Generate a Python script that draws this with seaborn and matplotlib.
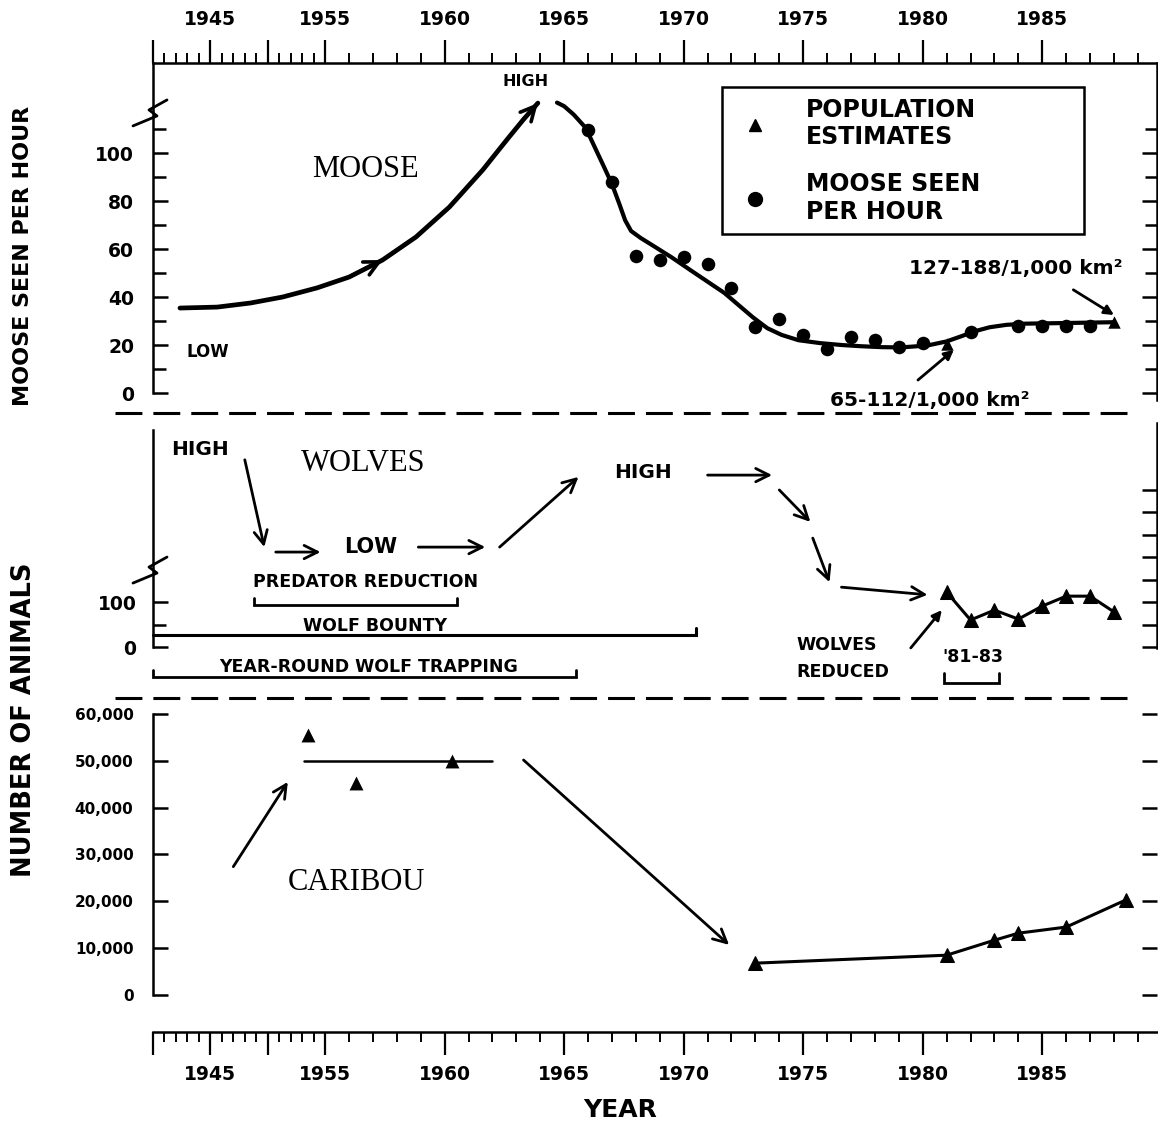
import numpy as np
import matplotlib
matplotlib.use("Agg")
import matplotlib.pyplot as plt
from matplotlib.lines import Line2D
from matplotlib.ticker import FixedLocator, FixedFormatter, NullLocator
import seaborn as sns

# ---------------- data ----------------
# Moose seen per hour of aerial survey
moose_years = [1966, 1967, 1968, 1969, 1970, 1971, 1972, 1973, 1974, 1975,
               1976, 1977, 1978, 1979, 1980, 1982, 1984, 1985, 1986, 1987]
moose_rate = [109.6, 88.0, 57.0, 55.4, 56.7, 53.8, 43.8, 27.5, 30.8, 24.2,
              18.3, 23.3, 22.0, 19.2, 20.8, 25.4, 28.0, 28.0, 28.0, 28.0]
# Moose population estimates (plotted on the same trend)
moose_est_years = [1981, 1988]
moose_est_rate = [20.5, 29.6]

# Hand-fitted moose trend: increase to the mid-1960s high ...
moose_rise_years = [1942.35, 1945.6, 1948.5, 1951.3, 1954.3, 1956.0, 1957.4,
                    1958.8, 1960.2, 1961.6, 1962.2, 1962.7, 1963.3, 1963.9]
moose_rise_rate = [35.4, 35.8, 37.5, 40.0, 43.8, 48.3, 55.4,
                   65.0, 77.5, 93.0, 100.5, 106.7, 114.0, 120.8]
# ... and the decline through the survey years
moose_fall_years = [1964.7, 1965.0, 1965.4, 1965.9, 1966.3, 1966.7, 1967.0,
                    1967.3, 1967.55, 1967.8, 1968.2, 1968.7, 1969.5, 1970.4,
                    1971.7, 1972.9, 1973.5, 1974.1, 1974.8, 1975.7, 1976.6,
                    1977.4, 1978.3, 1979.1, 1980.2, 1981.0, 1981.6, 1982.2,
                    1982.8, 1983.5, 1984.3, 1985.0, 1988.0]
moose_fall_rate = [121.0, 119.5, 116.0, 110.5, 102.0, 93.5, 87.0,
                   79.0, 72.0, 67.5, 64.6, 61.5, 56.5, 50.4,
                   41.7, 31.5, 27.0, 24.2, 22.0, 20.8, 20.0,
                   19.5, 19.1, 19.0, 19.8, 21.5, 23.6, 25.8,
                   27.4, 28.4, 28.9, 29.0, 29.5]

# Wolf counts
wolf_years = [1981, 1982, 1983, 1984, 1985, 1986, 1987, 1988]
wolf_counts = [122, 60, 82, 62, 91, 113, 113, 78]

# Caribou population estimates
caribou_early_years = [1953.5, 1956.3, 1960.3]
caribou_early_counts = [55500, 45300, 50000]
caribou_plateau_years = [1953.2, 1962.0]
caribou_plateau_counts = [50000, 50000]
caribou_years = [1973, 1981, 1983, 1984, 1986, 1988.5]
caribou_counts = [6800, 8500, 11700, 13200, 14500, 20300]

# Wolf control periods (years)
predator_reduction = (1948.8, 1960.5)
wolf_bounty = (1940.0, 1970.5)
year_round_trapping = (1940.0, 1965.5)
wolf_reduction = (1980.9, 1983.2)

# Year axis
year_ticks = [1940, 1945, 1950, 1955, 1960, 1965, 1970, 1975, 1980, 1985]
year_labels = ["", "1945", "", "1955", "1960", "1965", "1970", "1975", "1980", "1985"]
minor_years = [y for y in range(1941, 1990) if y % 5]

# ---------------- style ----------------
sns.set_theme(style="ticks")
plt.rcParams.update({
    "font.family": ["DejaVu Sans"],
    "font.weight": "bold",
    "text.color": "black",
    "axes.edgecolor": "black",
    "axes.linewidth": 1.8,
    "xtick.color": "black",
    "ytick.color": "black",
    "axes.facecolor": "white",
    "figure.facecolor": "white",
    "axes.grid": False,
})
SERIF = ["Liberation Serif", "DejaVu Serif"]

# Years before 1955 are drawn at a compressed scale
SPLIT, SQUEEZE = 1955.0, 0.48


def fwd(x):
    x = np.asarray(x, dtype=float)
    return np.where(x < SPLIT, (x - SPLIT) * SQUEEZE, x - SPLIT)


def inv(t):
    t = np.asarray(t, dtype=float)
    return np.where(t < 0, t / SQUEEZE + SPLIT, t + SPLIT)


W, H = 1158, 1126
fig = plt.figure(figsize=(W / 100, H / 100), dpi=100)


def box(top, bottom):
    return [153 / W, 1 - bottom / H, 1004 / W, (bottom - top) / H]


ax_m = fig.add_axes(box(63, 413))
ax_w = fig.add_axes(box(413, 698))
ax_c = fig.add_axes(box(698, 1032))
for ax in (ax_m, ax_w, ax_c):
    ax.set_xscale("function", functions=(fwd, inv))

K = "black"


def arrow(ax, tail, head, style="->", lw=2.0, ms=24):
    ax.annotate("", xy=head, xytext=tail,
                arrowprops=dict(arrowstyle=style, lw=lw, color=K,
                                shrinkA=0, shrinkB=0, mutation_scale=ms),
                annotation_clip=False)


def bracket(ax, span, y, hook, lw=2.0):
    ax.plot([span[0], span[0], span[1], span[1]], [hook, y, y, hook],
            color=K, lw=lw, clip_on=False, solid_joinstyle="miter")


def zigzag(ax, v0, ppu):
    # small lightning-bolt break mark drawn across the left spine
    pts = [(-20, 13), (4, 3), (-4, -3), (14, -13)]
    xs = [dx / 1004 for dx, dy in pts]
    ys = [v0 - dy / ppu for dx, dy in pts]
    ax.plot(xs, ys, color=K, lw=2.0, transform=ax.get_yaxis_transform(),
            clip_on=False, zorder=5)


# ---------------- moose ----------------
sns.lineplot(x=moose_rise_years, y=moose_rise_rate, estimator=None, sort=False,
             color=K, lw=3.4, ax=ax_m)
sns.lineplot(x=moose_fall_years, y=moose_fall_rate, estimator=None, sort=False,
             color=K, lw=3.0, ax=ax_m)
sns.scatterplot(x=moose_years, y=moose_rate, marker="o", s=95, color=K,
                edgecolor=K, linewidth=0, ax=ax_m, zorder=4)
sns.scatterplot(x=moose_est_years, y=moose_est_rate, marker="^", s=80, color=K,
                edgecolor=K, linewidth=0, ax=ax_m, zorder=4)
arrow(ax_m, (moose_rise_years[5], moose_rise_rate[5]),
      (moose_rise_years[6], moose_rise_rate[6]), lw=2.6, ms=26)
arrow(ax_m, (moose_rise_years[-2], moose_rise_rate[-2]),
      (moose_rise_years[-1], moose_rise_rate[-1]), lw=2.6, ms=26)

ax_m.text(1956.7, 93, "MOOSE", family=SERIF, weight="normal", fontsize=22,
          ha="center", va="center")
ax_m.text(1963.4, 129.6, "HIGH", fontsize=11.5, ha="center", va="center")
ax_m.text(1944.8, 17, "LOW", fontsize=12, ha="center", va="center")
ax_m.text(1983.9, 52, "127-188/1,000 km²", fontsize=14.5, ha="center", va="center")
arrow(ax_m, (1986.3, 43), (1988.0, 32.5), style="-|>", lw=2.0, ms=14)
ax_m.text(1980.3, -3, "65-112/1,000 km²", fontsize=14.5, ha="center", va="center",
          clip_on=False)
arrow(ax_m, (1979.8, 5.4), (1981.3, 18), style="-|>", lw=2.0, ms=14)

handles = [Line2D([], [], ls="", marker="^", markersize=9, color=K),
           Line2D([], [], ls="", marker="o", markersize=10, color=K)]
leg = ax_m.legend(handles, ["POPULATION\nESTIMATES", "MOOSE SEEN\nPER HOUR"],
                  loc="upper left", bbox_to_anchor=(722 / W, 1 - 87 / H, 362 / W, 0),
                  bbox_transform=fig.transFigure, mode="expand", frameon=True,
                  fancybox=False, edgecolor=K, framealpha=1,
                  prop=dict(family="DejaVu Sans", weight="bold", size=17),
                  borderpad=0.45, handlelength=1.9, handletextpad=1.2,
                  labelspacing=0.95, borderaxespad=0)
leg.get_frame().set_linewidth(1.8)

ax_m.set_ylim(-8.33, 137.5)
ax_m.set_yticks([0, 20, 40, 60, 80, 100])
ax_m.set_yticks([10, 30, 50, 70, 90, 110], minor=True)
ax_m.tick_params(axis="y", which="both", left=True, right=True, direction="in",
                 labelleft=True, labelright=False, width=1.8)
ax_m.tick_params(axis="y", which="major", length=11, pad=13.5, labelsize=13.5)
ax_m.tick_params(axis="y", which="minor", length=9)
ax_m.spines["bottom"].set_visible(False)
ax_m.spines["left"].set_bounds(0, 137.5)
ax_m.spines["right"].set_bounds(-3, 137.5)
zigzag(ax_m, 116.7, 2.4)

# ---------------- wolves ----------------
sns.lineplot(x=wolf_years, y=wolf_counts, estimator=None, color=K, lw=2.2,
             marker="^", markersize=9.5, markeredgecolor=K, ax=ax_w)
ax_w.text(1956.6, 407, "WOLVES", family=SERIF, weight="normal", fontsize=22,
          ha="center", va="center")
ax_w.text(1944.1, 438, "HIGH", fontsize=14.5, ha="center", va="center")
arrow(ax_w, (1948.0, 416), (1949.7, 222))
arrow(ax_w, (1950.7, 211), (1954.6, 211))
ax_w.text(1956.9, 222, "LOW", fontsize=15, ha="center", va="center")
arrow(ax_w, (1958.9, 222), (1961.7, 222))
arrow(ax_w, (1962.3, 222), (1965.6, 378))
ax_w.text(1968.3, 387, "HIGH", fontsize=14.5, ha="center", va="center")
arrow(ax_w, (1971.0, 382), (1973.7, 382))
arrow(ax_w, (1974.0, 349), (1975.3, 278))
arrow(ax_w, (1975.4, 242), (1976.1, 144))
arrow(ax_w, (1976.6, 133), (1980.2, 116))
ax_w.text(1974.7, 4, "WOLVES", fontsize=12.5, ha="left", va="center")
ax_w.text(1974.7, -56, "REDUCED", fontsize=12.5, ha="left", va="center")
arrow(ax_w, (1979.5, -2), (1980.8, 82), style="-|>", ms=14)
ax_w.text(1982.1, -22, "'81-83", fontsize=12.5, ha="center", va="center")
bracket(ax_w, wolf_reduction, -80, -58)

ax_w.text(1956.7, 144, "PREDATOR REDUCTION", fontsize=12.5, ha="center", va="center")
bracket(ax_w, predator_reduction, 93, 109)
ax_w.text(1957.1, 47, "WOLF BOUNTY", fontsize=12.5, ha="center", va="center")
ax_w.plot([wolf_bounty[0], wolf_bounty[1], wolf_bounty[1]], [27, 27, 42],
          color=K, lw=2.2, clip_on=False, solid_joinstyle="miter")
ax_w.text(1956.8, -44, "YEAR-ROUND WOLF TRAPPING", fontsize=12.5,
          ha="center", va="center")
bracket(ax_w, year_round_trapping, -67, -51)

ax_w.set_ylim(-113.3, 520)
ax_w.set_yticks([0, 100])
ax_w.set_yticks([50], minor=True)
ax_w.tick_params(axis="y", which="both", left=True, right=False, direction="in",
                 width=1.8)
ax_w.tick_params(axis="y", which="major", length=11, pad=12, labelsize=13.5)
ax_w.tick_params(axis="y", which="minor", length=9)
ax_w.tick_params(axis="x", which="both", bottom=False, top=False,
                 labelbottom=False, labeltop=False)
for s in ("top", "bottom", "right"):
    ax_w.spines[s].set_visible(False)
ax_w.spines["left"].set_bounds(0, 482)
zigzag(ax_w, 171, 0.45)

ax_wr = ax_w.twinx()
ax_wr.set_ylim(-113.3, 520)
ax_wr.set_yticks(list(range(0, 400, 50)))
ax_wr.tick_params(axis="y", which="major", right=True, labelright=False,
                  direction="in", length=11, width=1.8)
ax_wr.tick_params(axis="x", which="both", bottom=False, top=False,
                  labelbottom=False, labeltop=False)
for s in ("top", "bottom", "left"):
    ax_wr.spines[s].set_visible(False)
ax_wr.spines["right"].set_bounds(-2, 498)

# ---------------- caribou ----------------
sns.scatterplot(x=caribou_early_years, y=caribou_early_counts, marker="^", s=100,
                color=K, edgecolor=K, linewidth=0, ax=ax_c, zorder=4)
sns.lineplot(x=caribou_plateau_years, y=caribou_plateau_counts, estimator=None,
             color=K, lw=1.8, ax=ax_c)
sns.lineplot(x=caribou_years, y=caribou_counts, estimator=None, color=K, lw=2.2,
             marker="^", markersize=10, markeredgecolor=K, ax=ax_c)
ax_c.text(1956.3, 24100, "CARIBOU", family=SERIF, weight="normal", fontsize=22,
          ha="center", va="center")
arrow(ax_c, (1947.0, 27400), (1951.75, 45500))
arrow(ax_c, (1963.3, 50170), (1971.9, 10700))

ax_c.set_ylim(-7900, 63410)
ax_c.set_yticks(list(range(0, 60001, 10000)))
ax_c.set_yticklabels([f"{v:,}" for v in range(0, 60001, 10000)])
ax_c.tick_params(axis="y", which="major", left=True, right=True, direction="in",
                 length=11, width=1.8, pad=14, labelsize=11)
ax_c.spines["top"].set_visible(False)
ax_c.spines["right"].set_visible(False)
ax_c.spines["left"].set_bounds(0, 60000)

# ---------------- year axes ----------------
for ax in (ax_m, ax_w, ax_c):
    ax.set_xlim(1940, 1989.8)
    ax.set_xlabel("")
    ax.set_ylabel("")

for ax, top in ((ax_m, True), (ax_c, False)):
    ax.xaxis.set_major_locator(FixedLocator(year_ticks))
    ax.xaxis.set_major_formatter(FixedFormatter(year_labels))
    ax.xaxis.set_minor_locator(FixedLocator(minor_years))
    ax.tick_params(axis="x", which="both", top=top, labeltop=top,
                   bottom=not top, labelbottom=not top, direction="out")
    ax.tick_params(axis="x", which="major", length=16.5, width=1.6,
                   pad=8 if top else 7, labelsize=13.5)
    ax.tick_params(axis="x", which="minor", length=7.5, width=1.4)
ax_w.xaxis.set_major_locator(NullLocator())
ax_w.xaxis.set_minor_locator(NullLocator())

# Panel separators
for y in (413, 698):
    fig.add_artist(Line2D([115 / W, 1130 / W], [1 - y / H] * 2, color=K, lw=2.2,
                          dashes=(8.8, 3.6)))

fig.text(23 / W, 1 - 256 / H, "MOOSE SEEN PER HOUR", rotation=90, fontsize=16,
         ha="center", va="center")
fig.text(24 / W, 1 - 720 / H, "NUMBER OF ANIMALS", rotation=90, fontsize=18.5,
         ha="center", va="center")
fig.text(620 / W, 1 - 1110 / H, "YEAR", fontsize=18, ha="center", va="center")

fig.savefig("out.png", dpi=100)
